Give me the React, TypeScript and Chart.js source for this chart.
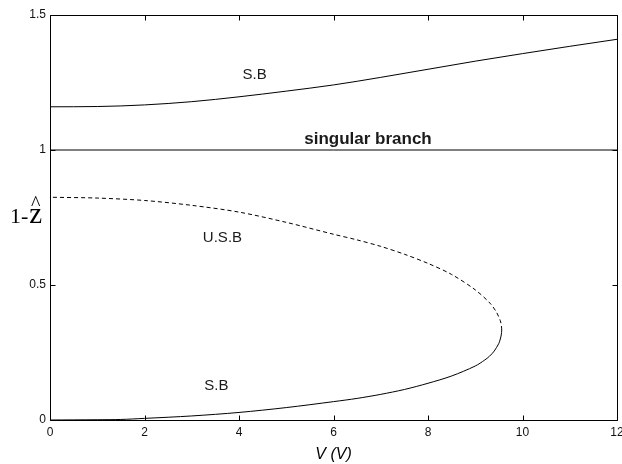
import { useEffect, useRef } from 'react';
import { Chart, registerables } from 'chart.js';

Chart.register(...registerables);

// Upper stable branch (S.B)
const upperSbV = [0, 1, 2, 3, 4, 5, 6, 7, 8, 9, 10, 11, 12];
const upperSbZ = [1.16, 1.161, 1.167, 1.179, 1.197, 1.218, 1.241, 1.269, 1.299, 1.329, 1.357, 1.384, 1.41];

// Singular branch
const singularV = [0, 12];
const singularZ = [1, 1];

// Lower stable branch (S.B), from V = 0 up to the fold point
const lowerSbV = [0, 1, 1.5, 2, 3, 4, 5, 6, 6.5, 7, 7.5, 8, 8.5, 9, 9.2, 9.3, 9.4, 9.5, 9.53, 9.55, 9.56];
const lowerSbZ = [0, 0.001, 0.002, 0.006, 0.015, 0.028, 0.046, 0.068, 0.08, 0.095, 0.113, 0.136, 0.163, 0.2, 0.222, 0.236, 0.255, 0.284, 0.3, 0.315, 0.333];

// Unstable branch (U.S.B), continuing from the fold back to V = 0
const usbV = [9.55, 9.53, 9.45, 9.31, 9.0, 8.5, 8.0, 7.5, 7.0, 6.5, 6.0, 5.0, 4.0, 3.0, 2.0, 1.0, 0];
const usbZ = [0.353, 0.368, 0.399, 0.433, 0.482, 0.539, 0.58, 0.614, 0.643, 0.667, 0.688, 0.732, 0.77, 0.795, 0.813, 0.822, 0.825];

const xTickStep = 2;
const yTickStep = 0.5;

// Text annotations placed in data coordinates (V, z) at their baseline centre
const annotations = [
  { text: 'S.B', v: 4.33, z: 1.263, font: '15px "Liberation Sans"' },
  { text: 'singular branch', v: 6.73, z: 1.022, font: 'bold 17px "Liberation Sans"' },
  { text: 'U.S.B', v: 3.65, z: 0.659, font: '15px "Liberation Sans"' },
  { text: 'S.B', v: 3.52, z: 0.111, font: '15px "Liberation Sans"' },
];

const pts = (xs: number[], ys: number[]) => xs.map((x, i) => ({ x, y: ys[i] }));

// The lower loop is one continuous curve: solid while stable, dashed once unstable
const loopPoints = [...pts(lowerSbV, lowerSbZ), ...pts(usbV, usbZ)];
const foldIndex = lowerSbV.length - 1;

const framePlugin = {
  id: 'frameAndText',
  afterDatasetsDraw(chart: any) {
    const { ctx, chartArea, scales } = chart;
    const xs = scales.x;
    const ys = scales.y;
    const L = Math.round(chartArea.left) + 0.5;
    const R = Math.round(chartArea.right) + 0.5;
    const T = Math.round(chartArea.top) + 0.5;
    const B = Math.round(chartArea.bottom) + 0.5;
    const tick = 5;

    ctx.save();
    ctx.strokeStyle = '#000';
    ctx.lineWidth = 1;
    ctx.beginPath();
    ctx.rect(L, T, R - L, B - T);
    for (const t of xs.ticks) {
      const px = Math.round(xs.getPixelForValue(t.value)) + 0.5;
      ctx.moveTo(px, B);
      ctx.lineTo(px, B - tick);
      ctx.moveTo(px, T);
      ctx.lineTo(px, T + tick);
    }
    for (const t of ys.ticks) {
      const py = Math.round(ys.getPixelForValue(t.value)) + 0.5;
      ctx.moveTo(L, py);
      ctx.lineTo(L + tick, py);
      ctx.moveTo(R, py);
      ctx.lineTo(R - tick, py);
    }
    ctx.stroke();

    ctx.fillStyle = '#1a1a1a';
    ctx.textAlign = 'center';
    ctx.textBaseline = 'alphabetic';
    for (const a of annotations) {
      ctx.font = a.font;
      ctx.fillText(a.text, xs.getPixelForValue(a.v), ys.getPixelForValue(a.z));
    }

    // y-axis label: 1-z with a hat over the z
    const base = ys.getPixelForValue(0.73);
    ctx.fillStyle = '#000';
    ctx.textAlign = 'left';
    ctx.font = '22px "Liberation Serif"';
    ctx.fillText('1-', 10, base);
    const w1 = ctx.measureText('1-').width;
    ctx.font = '29px "Liberation Serif"';
    ctx.fillText('z', 11 + w1, base);
    const wz = ctx.measureText('z').width;
    ctx.font = '20px "Liberation Serif"';
    ctx.textAlign = 'center';
    ctx.fillText('^', 11 + w1 + wz / 2, base - 13);
    ctx.restore();
  },
};

export default function App() {
  const canvasRef = useRef<HTMLCanvasElement>(null);

  useEffect(() => {
    const canvas = canvasRef.current;
    if (!canvas) return;
    const lineBase = {
      showLine: true,
      pointRadius: 0,
      borderColor: '#000',
      borderWidth: 1,
      fill: false,
    };
    const chart = new Chart(canvas, {
      type: 'scatter',
      data: {
        datasets: [
          { ...lineBase, label: 'S.B upper', data: pts(upperSbV, upperSbZ), cubicInterpolationMode: 'monotone' },
          { ...lineBase, label: 'singular branch', data: pts(singularV, singularZ) },
          {
            ...lineBase,
            label: 'S.B / U.S.B',
            data: loopPoints,
            tension: 0.3,
            segment: {
              borderDash: (c: any) => (c.p0DataIndex >= foldIndex ? [4, 3] : undefined),
            },
          },
        ],
      },
      options: {
        responsive: false,
        animation: false,
        events: [],
        layout: { padding: { left: 0, top: 15, right: 5, bottom: 0 } },
        plugins: {
          legend: { display: false },
          tooltip: { enabled: false },
        },
        scales: {
          x: {
            type: 'linear',
            min: 0,
            max: 12,
            grid: { display: false, drawTicks: false },
            border: { display: false },
            ticks: {
              stepSize: xTickStep,
              padding: 5,
              color: '#111',
              font: { family: '"Liberation Sans"', size: 12 },
              maxRotation: 0,
            },
            title: {
              display: true,
              text: 'V (V)',
              color: '#000',
              padding: { top: 0, bottom: 0 },
              font: { family: '"Liberation Sans"', size: 16, style: 'italic' },
            },
            afterFit(scale: any) {
              scale.height = 44;
              scale.paddingLeft = 0;
              scale.paddingRight = 0;
            },
          },
          y: {
            type: 'linear',
            min: 0,
            max: 1.5,
            grid: { display: false, drawTicks: false },
            border: { display: false },
            ticks: {
              stepSize: yTickStep,
              padding: 4,
              color: '#111',
              font: { family: '"Liberation Sans"', size: 12 },
              callback: (v: any) => String(v),
            },
            afterFit(scale: any) {
              scale.width = 50;
              scale.paddingTop = 0;
              scale.paddingBottom = 0;
            },
          },
        },
      },
      plugins: [framePlugin],
    } as any);
    return () => chart.destroy();
  }, []);

  return (
    <div style={{ position: 'fixed', left: 0, top: 0, width: 622, height: 464, background: '#fff' }}>
      <canvas ref={canvasRef} width={622} height={464} />
    </div>
  );
}
